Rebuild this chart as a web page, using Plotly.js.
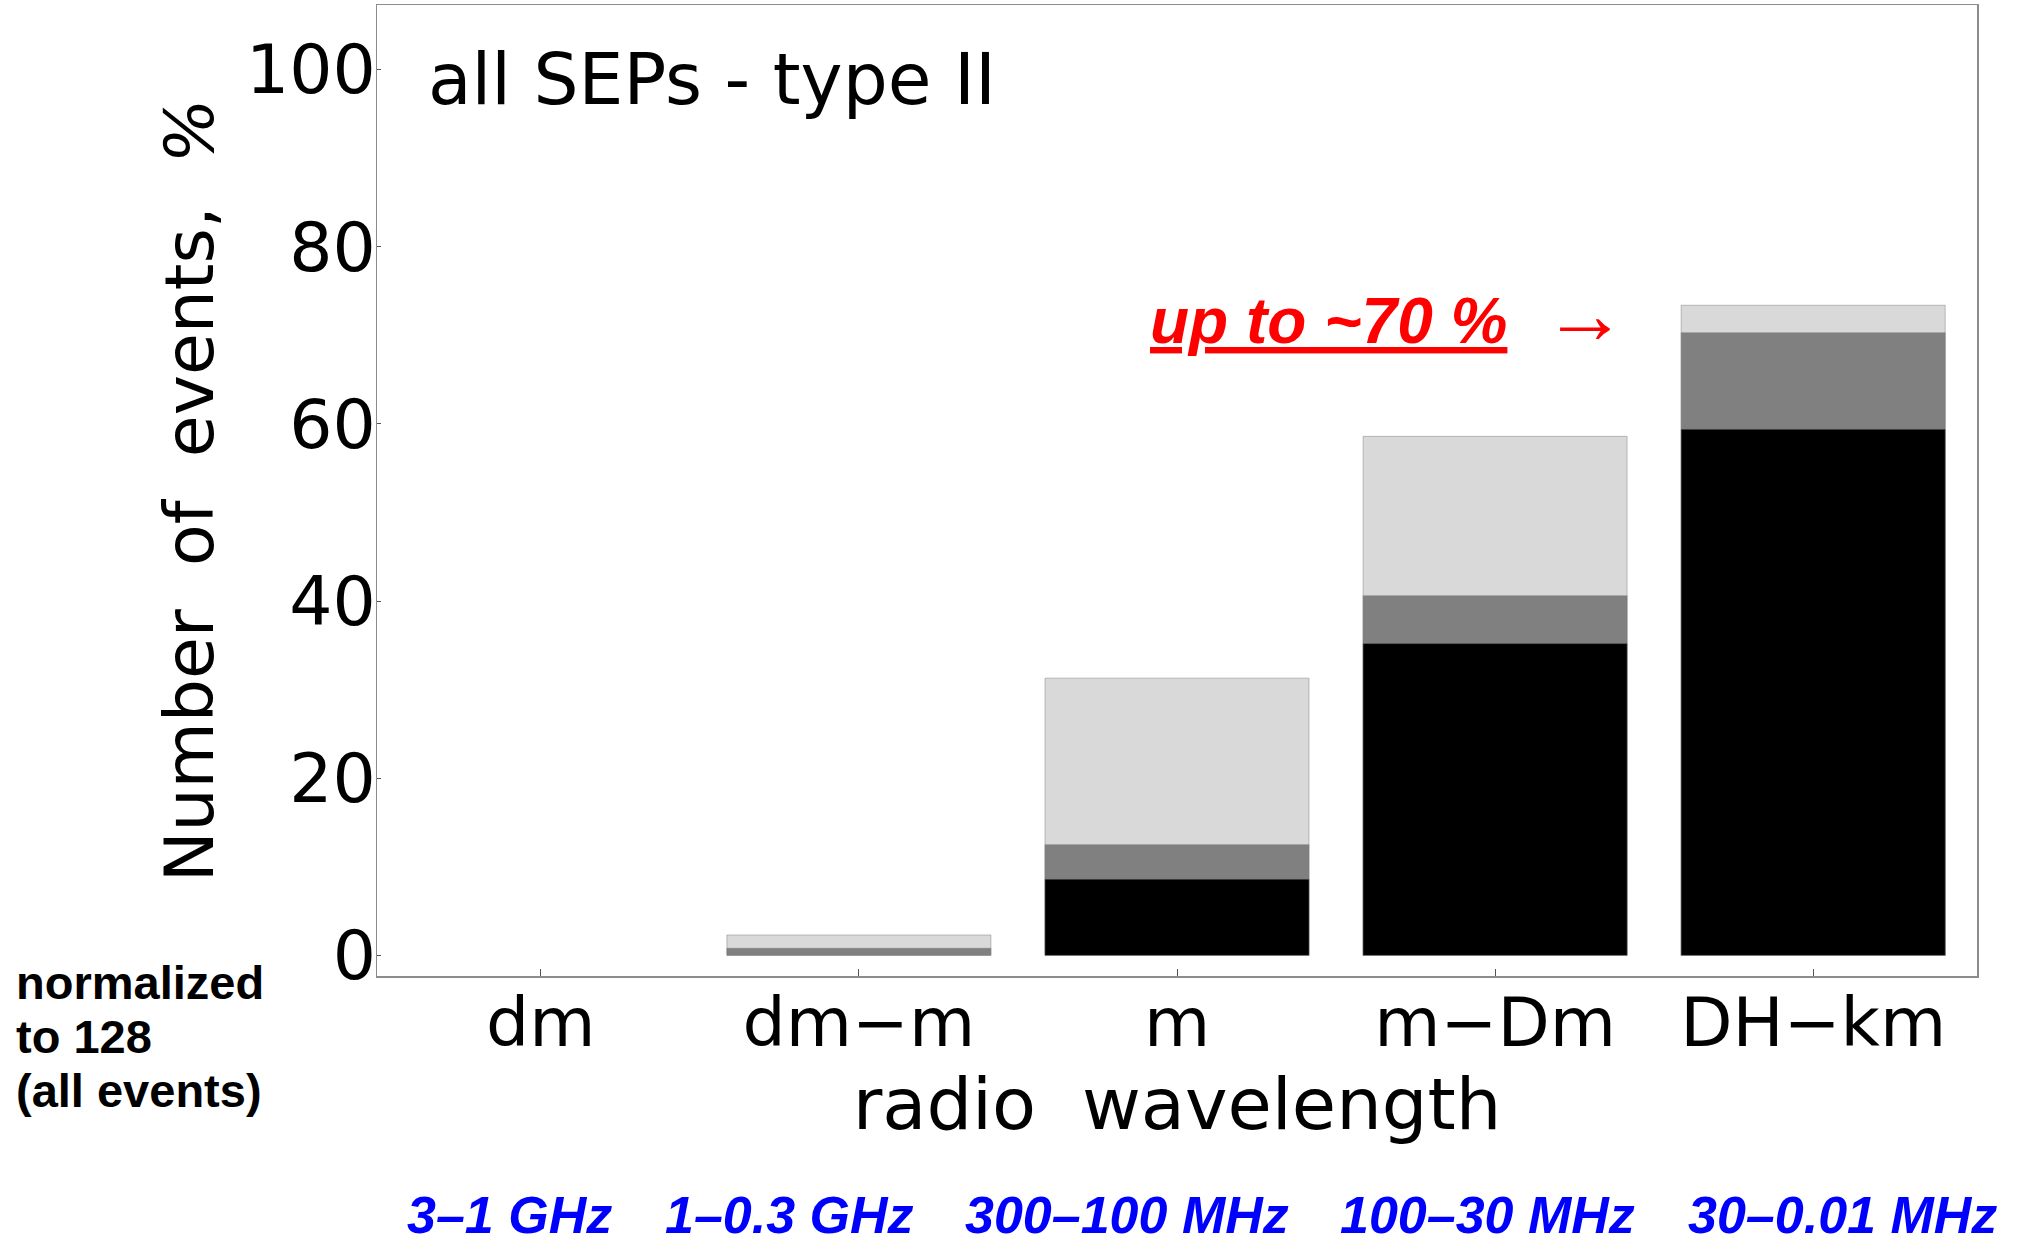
<!DOCTYPE html>
<html><head><meta charset="utf-8">
<script src="https://cdn.plot.ly/plotly-3.0.1.min.js"></script>
<style>html,body{margin:0;padding:0;background:#fff}</style>
</head><body><div id="chart" style="width:2025px;height:1244px"></div>
<script>
// radio wavelength categories
const categories = ['dm', 'dm\u2212m', 'm', 'm\u2212Dm', 'DH\u2212km'];
// cumulative percentages (normalized to 128 events)
const totalPct  = [0, 2.3, 31.3, 58.6, 73.4];   // light grey top
const middlePct = [0, 0.8, 12.5, 40.6, 70.3];   // dark grey top
const corePct   = [0, 0.0,  8.6, 35.2, 59.4];   // black top
const freqLabels = ['3\u20131 GHz', '1\u20130.3 GHz', '300\u2013100 MHz', '100\u201330 MHz', '30\u20130.01 MHz'];
const noteLines = ['normalized', 'to 128', '(all events)'];
const yTicks = [0, 20, 40, 60, 80, 100];

const freqX = [0.083, 0.2575, 0.469, 0.694, 0.916];
function barLine(vals) {
  return {width: vals.map(v => v > 0 ? 1 : 0), color: 'rgba(120,120,120,0.45)'};
}
const traces = [
  {type: 'bar', x: categories, y: totalPct, marker: {color: '#d9d9d9', line: barLine(totalPct)}, width: 0.83, hoverinfo: 'y'},
  {type: 'bar', x: categories, y: middlePct, marker: {color: '#808080', line: barLine(middlePct)}, width: 0.83, hoverinfo: 'y'},
  {type: 'bar', x: categories, y: corePct, marker: {color: '#000000', line: barLine(corePct)}, width: 0.83, hoverinfo: 'y'}
];

const annotations = [
  {text: 'all SEPs - type II', xref: 'paper', yref: 'paper', x: 0.0306, y: 0.9228, xanchor: 'left', yanchor: 'middle',
   showarrow: false, font: {family: 'DejaVu Sans', size: 71, color: '#000'}},
  {text: '<b><i><u>up to ~70 %</u></i></b>  <span style="font-size:84px">\u2192</span>', xref: 'paper', yref: 'paper', x: 0.632, y: 0.682,
   xanchor: 'center', yanchor: 'middle', showarrow: false, font: {family: 'Liberation Sans', size: 64, color: '#ff0000'}}
];
noteLines.forEach((t, i) => annotations.push({
  text: '<b>' + t + '</b>', xref: 'paper', yref: 'paper', x: -0.227, y: -0.0065 - i * 0.0557,
  xanchor: 'left', yanchor: 'middle', align: 'left', showarrow: false,
  font: {family: 'Liberation Sans', size: 47, color: '#000'}
}));
freqLabels.forEach((t, i) => annotations.push({
  text: '<b><i>' + t + '</i></b>', xref: 'paper', yref: 'paper', x: freqX[i], y: -0.246,
  xanchor: 'center', yanchor: 'middle', showarrow: false, font: {family: 'Liberation Sans', size: 52, color: '#0000ff'}
}));

const layout = {
  width: 2025, height: 1244,
  margin: {l: 377, r: 48, t: 5, b: 268},
  paper_bgcolor: '#fff', plot_bgcolor: '#fff',
  barmode: 'overlay', showlegend: false,
  font: {family: 'DejaVu Sans', color: '#000'},
  xaxis: {
    type: 'category', range: [-0.515, 4.515], showgrid: false, zeroline: false,
    showline: true, linecolor: '#8c8c8c', linewidth: 1.5, mirror: true,
    ticks: 'inside', ticklen: 7, tickcolor: '#555', tickwidth: 1, ticklabelstandoff: -13,
    tickfont: {family: 'DejaVu Sans', size: 68, color: '#000'},
    title: {text: 'radio  wavelength', font: {family: 'DejaVu Sans', size: 72, color: '#000'}, standoff: 14},
    automargin: false
  },
  yaxis: {
    range: [-2.33, 107.3], showgrid: false, zeroline: false,
    showline: true, linecolor: '#8c8c8c', linewidth: 1.5, mirror: true,
    tickvals: yTicks, ticktext: yTicks.map(String),
    ticks: 'inside', ticklen: 4, tickcolor: '#555', ticklabelstandoff: -14,
    tickfont: {family: 'DejaVu Sans', size: 68, color: '#000'},
    title: {text: 'Number  of  events,  <i>%</i>', font: {family: 'DejaVu Sans', size: 68, color: '#000'}, standoff: 10},
    automargin: false
  },
  annotations: annotations
};
Plotly.newPlot('chart', traces, layout, {staticPlot: true});
</script></body></html>
